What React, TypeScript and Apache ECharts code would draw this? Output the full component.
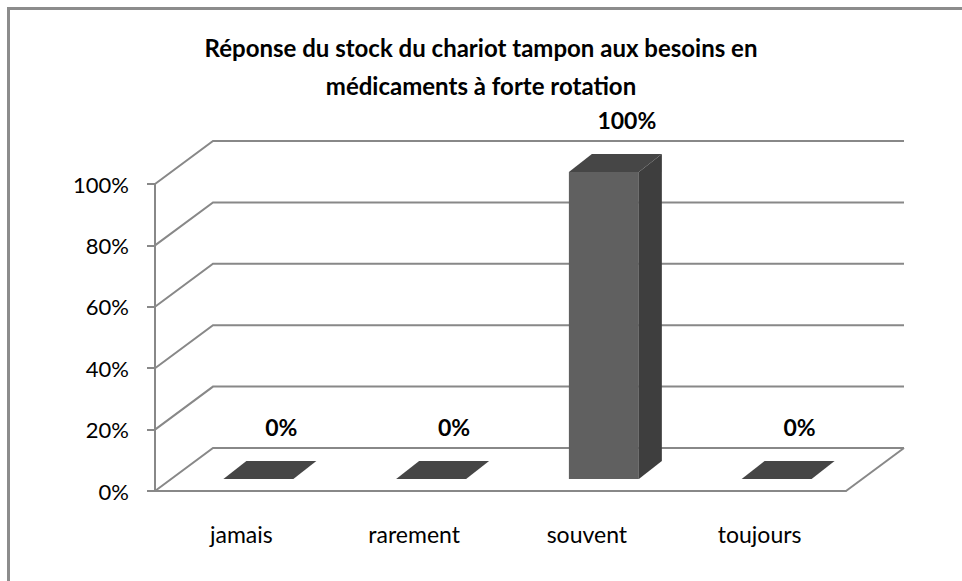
import React, { useEffect, useRef } from "react";
import * as echarts from "echarts";

const categories = ["jamais", "rarement", "souvent", "toujours"];
const values = [0, 0, 100, 0];
const yTicks = [0, 20, 40, 60, 80, 100];
const titleLines = [
  "Réponse du stock du chariot tampon aux besoins en",
  "médicaments à forte rotation",
];

export default function App() {
  const ref = useRef<HTMLDivElement>(null);

  useEffect(() => {
    const chart = echarts.init(ref.current!, null, { renderer: "svg" });
    const DX = 58;
    const DY = -43;
    const gridColor = "#888888";
    const font = "Lato, 'Open Sans', sans-serif";

    const wallItem = (params: any, api: any) => {
      const v = api.value(1);
      const p0 = api.coord([0, v]);
      const band = api.size([1, 0])[0];
      const left = p0[0] - band / 2;
      const right = api.coord([categories.length - 1, v])[0] + band / 2;
      const y = p0[1];
      const children: any[] = [
        {
          type: "polyline",
          shape: {
            points: [
              [left, y],
              [left + DX, y + DY],
              [right + DX, y + DY],
            ],
          },
          style: { stroke: gridColor, lineWidth: 2, fill: null },
        },
      ];
      if (v === 0) {
        children.push({
          type: "line",
          shape: { x1: right, y1: y, x2: right + DX, y2: y + DY },
          style: { stroke: gridColor, lineWidth: 2 },
        });
      }
      return { type: "group", children };
    };

    const barItem = (params: any, api: any) => {
      const i = api.value(0);
      const v = api.value(1);
      const top = api.coord([i, v]);
      const base = api.coord([i, 0]);
      const band = api.size([1, 0])[0];
      const w = band * 0.405;
      const x0 = top[0] - w / 2 + 17;
      const x1 = x0 + w;
      const yT = top[1] - 12;
      const yB = base[1] - 12;
      const sx = 23;
      const sy = -18;
      const children: any[] = [];
      if (v > 0) {
        children.push({
          type: "polygon",
          shape: { points: [[x0, yB], [x1, yB], [x1, yT], [x0, yT]] },
          style: { fill: "#606060" },
        });
        children.push({
          type: "polygon",
          shape: { points: [[x1, yB], [x1 + sx, yB + sy], [x1 + sx, yT + sy], [x1, yT]] },
          style: { fill: "#3e3e3e" },
        });
      }
      children.push({
        type: "polygon",
        shape: { points: [[x0, yT], [x1, yT], [x1 + sx, yT + sy], [x0 + sx, yT + sy]] },
        style: { fill: "#464646" },
      });
      children.push({
        type: "text",
        x: (x0 + x1) / 2 + sx,
        y: yT + sy - 34,
        style: {
          text: v + "%",
          fill: "#000000",
          font: "bold 23px " + font,
          align: "center",
          verticalAlign: "middle",
        },
      });
      return { type: "group", children };
    };

    chart.setOption({
      animation: false,
      backgroundColor: "#ffffff",
      title: {
        text: titleLines.join("\n"),
        left: "center",
        top: 23,
        textStyle: {
          fontFamily: font,
          fontWeight: "bold",
          fontSize: 24,
          lineHeight: 38,
          color: "#000000",
        },
      },
      grid: { left: 155, right: 116, top: 184, bottom: 90 },
      xAxis: {
        type: "category",
        data: categories,
        axisLine: { lineStyle: { color: gridColor, width: 2 } },
        axisTick: { length: 9, lineStyle: { color: gridColor, width: 2 } },
        axisLabel: { fontFamily: font, fontSize: 23, color: "#000000", margin: 31 },
      },
      yAxis: {
        type: "value",
        min: 0,
        max: 100,
        interval: 20,
        axisLine: { show: true, lineStyle: { color: gridColor, width: 2 } },
        axisTick: { show: true, length: 8, lineStyle: { color: gridColor, width: 2 } },
        splitLine: { show: false },
        axisLabel: {
          formatter: "{value}%",
          fontFamily: font,
          fontSize: 22,
          color: "#000000",
          margin: 26,
        },
      },
      series: [
        {
          type: "custom",
          renderItem: wallItem,
          data: yTicks.map((t) => [0, t]),
          encode: { x: 0, y: 1 },
          silent: true,
          z: 1,
        },
        {
          type: "custom",
          renderItem: barItem,
          data: values.map((v, i) => [i, v]),
          encode: { x: 0, y: 1 },
          z: 2,
        },
      ],
      graphic: [
        {
          type: "line",
          shape: { x1: 7, y1: 8.5, x2: 962, y2: 8.5 },
          style: { stroke: "#8c8c8c", lineWidth: 3 },
        },
        {
          type: "line",
          shape: { x1: 8.5, y1: 7, x2: 8.5, y2: 581 },
          style: { stroke: "#8c8c8c", lineWidth: 3 },
        },
      ],
    });

    return () => chart.dispose();
  }, []);

  return (
    <div
      ref={ref}
      style={{ position: "fixed", left: 0, top: 0, width: 962, height: 581 }}
    />
  );
}
